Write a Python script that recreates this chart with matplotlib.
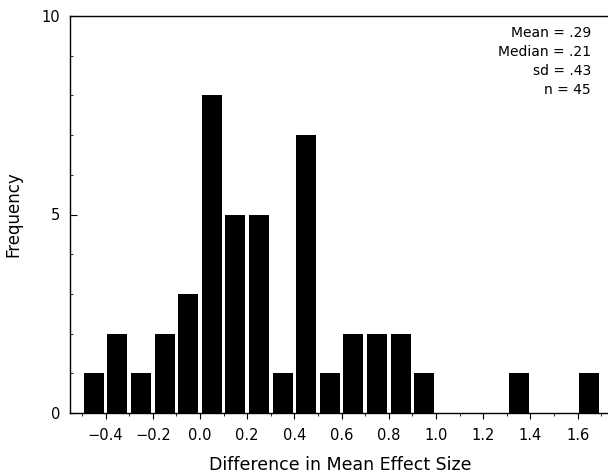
import matplotlib.pyplot as plt
from matplotlib.ticker import MultipleLocator

# bin centres (width 0.1) and counts
bin_centers = [-0.45, -0.35, -0.25, -0.15, -0.05, 0.05, 0.15, 0.25, 0.35, 0.45,
               0.55, 0.65, 0.75, 0.85, 0.95, 1.05, 1.15, 1.25, 1.35, 1.45, 1.55, 1.65]
counts = [1, 2, 1, 2, 3, 8, 5, 5, 1, 7,
          1, 2, 2, 2, 1, 0, 0, 0, 1, 0, 0, 1]
stats_text = ["Mean = .29", "Median = .21", "sd = .43", "n = 45"]
x_ticks = [-0.4, -0.2, 0.0, 0.2, 0.4, 0.6, 0.8, 1.0, 1.2, 1.4, 1.6]
x_labels = ['\u22120.4', '\u22120.2', '0.0', '0.2', '0.4', '0.6', '0.8',
            '1.0', '1.2', '1.4', '1.6']

plt.rcParams['font.family'] = ['DejaVu Sans']

fig = plt.figure(figsize=(6.08, 4.74), dpi=100)
# right spine sits just past the image edge in the scan
ax = fig.add_axes([70 / 608, 1 - 413 / 474, 540 / 608, 397 / 474])

ax.bar(bin_centers, counts, width=0.085, color='black', linewidth=0)

ax.set_xlim(-0.551, 1.737)
ax.set_ylim(0, 10)
ax.set_xticks(x_ticks)
ax.set_xticklabels(x_labels)
ax.xaxis.set_minor_locator(MultipleLocator(0.1))
ax.set_yticks([0, 5, 10])
ax.yaxis.set_minor_locator(MultipleLocator(1))

ax.tick_params(axis='x', which='major', direction='out', length=4, labelsize=10.5, pad=7)
ax.tick_params(axis='x', which='minor', direction='out', length=2)
ax.tick_params(axis='y', which='major', direction='in', length=5, labelsize=10.5, pad=7)
ax.tick_params(axis='y', which='minor', direction='in', length=2)
for sp in ax.spines.values():
    sp.set_linewidth(1.0)

ax.set_xlabel('Difference in Mean Effect Size', fontsize=12.5, labelpad=9)
ax.set_ylabel('Frequency', fontsize=12, labelpad=14)

for i, s in enumerate(stats_text):
    fig.text(591 / 608, 1 - (33 + 19 * i) / 474, s, ha='right', va='center', fontsize=10)

plt.savefig('out.png', dpi=100)
